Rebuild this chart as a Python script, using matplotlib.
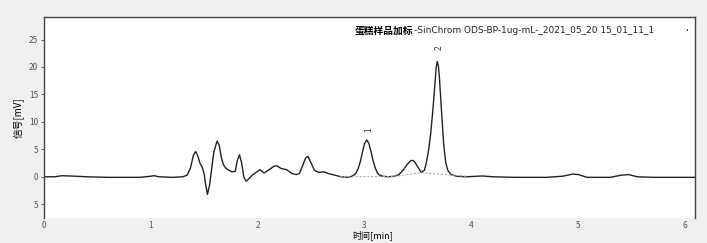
import matplotlib
matplotlib.use("Agg")
import matplotlib.pyplot as plt

plt.rcParams['font.family'] = ['Noto Sans CJK SC', 'DejaVu Sans']

# chromatogram trace: time [min], signal [mV]
time = [0.00, 0.10, 0.17, 0.30, 0.40, 0.60, 0.90, 1.00, 1.03, 1.08, 1.20, 1.30,
        1.34, 1.37, 1.40, 1.42, 1.44, 1.46, 1.48, 1.50, 1.51, 1.53, 1.55, 1.57,
        1.59, 1.62, 1.64, 1.66, 1.68, 1.70, 1.73, 1.76, 1.79, 1.81, 1.83, 1.85,
        1.87, 1.89, 1.91, 1.95, 2.00, 2.02, 2.06, 2.10, 2.15, 2.18, 2.22, 2.27,
        2.32, 2.36, 2.39, 2.42, 2.45, 2.47, 2.50, 2.53, 2.57, 2.62, 2.66, 2.72,
        2.78, 2.85, 2.88, 2.90, 2.92, 2.94, 2.96, 2.98, 3.00, 3.02, 3.04, 3.06,
        3.08, 3.10, 3.12, 3.14, 3.17, 3.22, 3.28, 3.32, 3.36, 3.40, 3.43, 3.45,
        3.47, 3.50, 3.53, 3.56, 3.58, 3.60, 3.62, 3.64, 3.66, 3.67, 3.68, 3.69,
        3.70, 3.72, 3.74, 3.76, 3.78, 3.81, 3.86, 3.95, 4.10, 4.20, 4.40, 4.70,
        4.85, 4.95, 5.00, 5.08, 5.30, 5.40, 5.47, 5.55, 5.70, 6.09]
signal = [0.0, 0.0, 0.2, 0.1, 0.0, -0.1, -0.1, 0.1, 0.2, 0.0, -0.1, 0.0,
          0.3, 1.5, 4.0, 4.6, 3.8, 2.5, 1.8, 0.5, -1.0, -3.2, -1.5, 1.5,
          4.5, 6.5, 5.8, 3.5, 2.2, 1.6, 1.2, 0.9, 1.0, 3.0, 4.0, 2.5,
          0.0, -0.8, -0.5, 0.3, 1.0, 1.3, 0.7, 1.2, 1.9, 2.0, 1.5, 1.3,
          0.6, 0.4, 0.6, 2.0, 3.5, 3.7, 2.5, 1.2, 0.8, 0.9, 0.6, 0.3,
          0.0, -0.1, 0.1, 0.3, 0.7, 1.5, 2.75, 4.5, 6.07, 6.7, 6.1, 4.6,
          2.9, 1.6, 0.7, 0.3, 0.1, 0.0, 0.1, 0.4, 1.2, 2.3, 2.9, 3.0,
          2.7, 1.7, 0.8, 1.2, 2.8, 5.0, 8.2, 12.5, 17.5, 20.0, 21.0, 20.2,
          18.0, 11.8, 5.8, 2.5, 1.1, 0.4, 0.1, 0.0, 0.15, 0.0, -0.1, -0.1,
          0.1, 0.5, 0.4, -0.1, -0.1, 0.3, 0.4, 0.0, -0.1, -0.1]

# integration baseline (grey dashed)
base_t = [2.77, 3.27, 3.53, 3.95]
base_v = [0.0, 0.05, 0.75, 0.1]

# peak labels
peak_names = ["1", "2"]
peak_t = [3.04, 3.70]
peak_v = [8.6, 23.6]

yticks = [-5, 0, 5, 10, 15, 20, 25]
ytick_labels = ["5", "0", "5", "10", "15", "20", "25"]
xticks = [0, 1, 2, 3, 4, 5, 6]

fig = plt.figure(figsize=(7.07, 2.43), dpi=100, facecolor="#f0f0f0")
ax = fig.add_axes([0.062, 0.103, 0.921, 0.827])
ax.set_facecolor("white")

ax.plot(time, signal, color="#222222", lw=1.0)
ax.plot(base_t, base_v, color="#aaaaaa", lw=0.8, ls=(0, (2, 1.5)))

for n, t, v in zip(peak_names, peak_t, peak_v):
    ax.text(t, v, n, rotation=90, fontsize=6, ha="center", va="center", color="#333333")

ax.set_xlim(0, 6.09)
ax.set_ylim(-7.5, 29.1)
ax.set_xticks(xticks)
ax.set_yticks(yticks)
ax.set_yticklabels(ytick_labels)
ax.tick_params(axis="both", labelsize=6, colors="#555555", length=2, width=0.6, pad=2)
ax.tick_params(axis="x", length=0, pad=2)

for s in ["left", "top", "right"]:
    ax.spines[s].set_color("#444444")
    ax.spines[s].set_linewidth(1.0)
ax.spines["bottom"].set_visible(False)

ax.set_ylabel("信号[mV]", fontsize=7, labelpad=4)
ax.set_xlabel("时间[min]", fontsize=6.5, va="center")
ax.xaxis.set_label_coords(0.505, -0.085)

t1 = ax.text(0.478, 0.935, "蛋糕样品加标", transform=ax.transAxes, fontsize=7,
             fontweight="bold", va="center", ha="left")
ax.annotate("-SinChrom ODS-BP-1ug-mL-_2021_05_20 15_01_11_1", xy=(1, 0.5),
            xycoords=t1, fontsize=6.5, va="center", ha="left", color="#222222",
            family=["DejaVu Sans"])
ax.text(0.987, 0.93, ".", transform=ax.transAxes, fontsize=7, ha="center")

fig.savefig("out.png", dpi=100, facecolor=fig.get_facecolor())
